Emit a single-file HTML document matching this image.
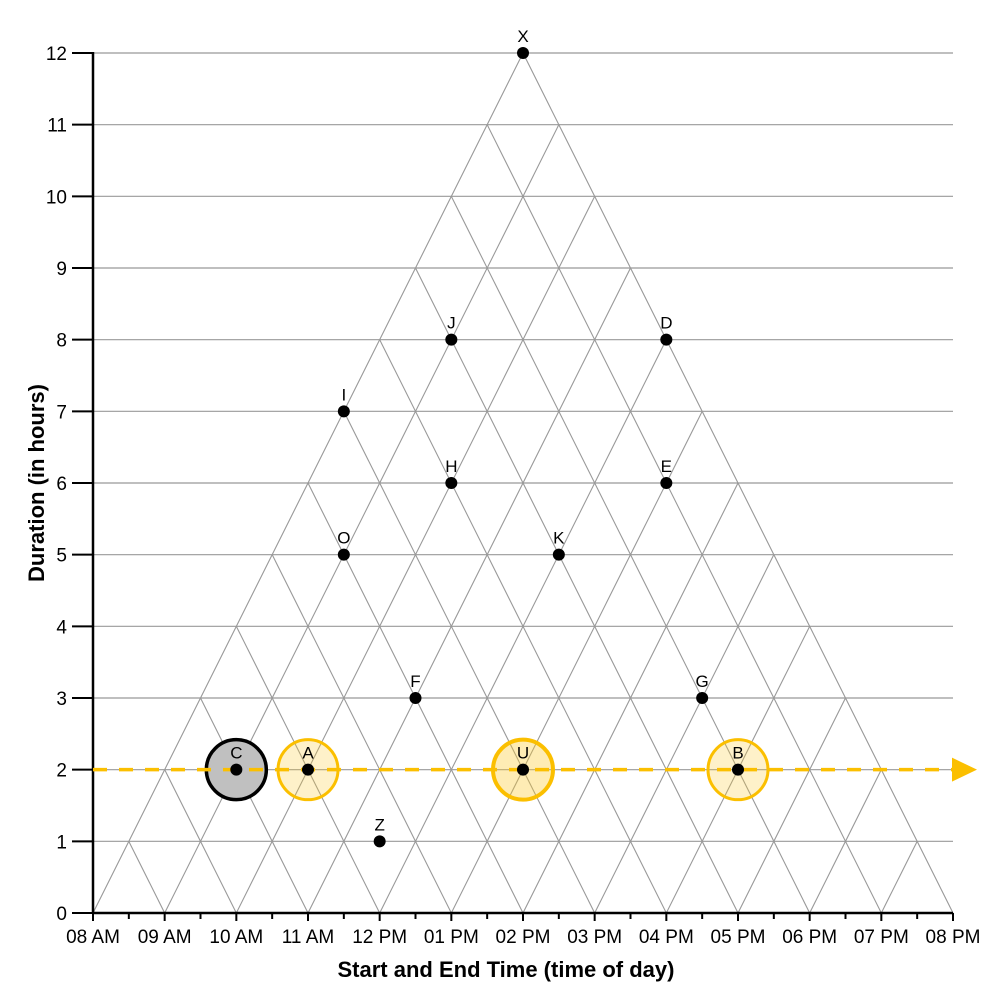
<!DOCTYPE html>
<html><head><meta charset="utf-8"><style>
body{margin:0;background:#fff}
svg{display:block;font-family:"Liberation Sans",Arial,sans-serif}
</style></head><body>
<svg id="chart" width="1000" height="1000">
<g id="grid"></g>
<g id="axes"></g>
<g id="hl"></g>
<g id="ref"></g>
<g id="pts"></g>
<text x="-483" y="44" transform="rotate(-90)" text-anchor="middle" font-size="22" font-weight="bold">Duration (in hours)</text>
<text x="506" y="977" text-anchor="middle" font-size="22" font-weight="bold">Start and End Time (time of day)</text>
</svg>
<script>
const pointNames=["X","J","D","I","H","E","O","K","F","G","C","A","U","B","Z"];
const pointTimes=[14,13,16,11.5,13,16,11.5,14.5,12.5,16.5,10,11,14,17,12];
const pointDurations=[12,8,8,7,6,6,5,5,3,3,2,2,2,2,1];
const xTickLabels=["08 AM","09 AM","10 AM","11 AM","12 PM","01 PM","02 PM","03 PM","04 PM","05 PM","06 PM","07 PM","08 PM"];
const yTickLabels=[0,1,2,3,4,5,6,7,8,9,10,11,12];
const highlightNames=["C","A","U","B"];
const highlightTypes=["gray","yellow","yellow-strong","yellow"];
const refDuration=2;
const T0=8,T1=20,D1=12;
const X=t=>93+(t-T0)/(T1-T0)*860;
const Y=d=>913-d/D1*860;
const NS="http://www.w3.org/2000/svg";
function mk(tag,attrs,parent){const e=document.createElementNS(NS,tag);for(const k in attrs)e.setAttribute(k,attrs[k]);parent.appendChild(e);return e;}
const grid=document.getElementById('grid'),axes=document.getElementById('axes'),hl=document.getElementById('hl'),ref=document.getElementById('ref'),pts=document.getElementById('pts');
yTickLabels.forEach(d=>{if(d===0)return;const l=mk('line',{x1:X(T0),x2:X(T1),y1:Y(d),y2:Y(d),stroke:'#999','stroke-width':1.2},grid);

});
for(let t=T0;t<=T1;t++){
  if(t<T1){const l=mk('line',{x1:X(t),y1:Y(0),x2:X((t+T1)/2),y2:Y(T1-t),stroke:'#999','stroke-width':1.1},grid);
  
  }
  if(t>T0){const l=mk('line',{x1:X(t),y1:Y(0),x2:X((t+T0)/2),y2:Y(t-T0),stroke:'#999','stroke-width':1.1},grid);
  
  }
}
let a=mk('line',{x1:93,x2:953,y1:913,y2:913,stroke:'#000','stroke-width':2.5},axes);


a=mk('line',{x1:93,x2:93,y1:52,y2:914,stroke:'#000','stroke-width':2.5},axes);


xTickLabels.forEach((s,i)=>{const x=X(T0+i);
  let t=mk('line',{x1:x,x2:x,y1:913,y2:921,stroke:'#000','stroke-width':2},axes);
  
  
  if(i<xTickLabels.length-1){t=mk('line',{x1:X(T0+i+0.5),x2:X(T0+i+0.5),y1:913,y2:919,stroke:'#000','stroke-width':2},axes);
  
  }
  const tx=mk('text',{x:x,y:943,'text-anchor':'middle','font-size':19},axes);tx.textContent=s;
  
  });
yTickLabels.forEach(d=>{const y=Y(d);
  const t=mk('line',{x1:72,x2:93,y1:y,y2:y,stroke:'#000','stroke-width':2},axes);
  
  
  const tx=mk('text',{x:67,y:y+7,'text-anchor':'end','font-size':19},axes);tx.textContent=d;
  
  });
highlightNames.forEach((n,i)=>{const k=pointNames.indexOf(n);const cx=X(pointTimes[k]),cy=Y(pointDurations[k]);
  const ty=highlightTypes[i];
  const st=ty==='gray'?{fill:'#c0c0c0',stroke:'#000','stroke-width':3.5}:ty==='yellow-strong'?{fill:'rgba(252,200,40,0.35)',stroke:'#fbbf00','stroke-width':4}:{fill:'rgba(252,200,40,0.25)',stroke:'#fbbf00','stroke-width':3};
  st.cx=cx;st.cy=cy;st.r=30;
  const c=mk('circle',st,hl);
  
  });
const yr=Y(refDuration);
let r=mk('line',{x1:X(T0),x2:958,y1:yr,y2:yr,stroke:'#fbbf00','stroke-width':3.5,'stroke-dasharray':'14,12'},ref);


r=mk('polygon',{points:`952,${yr-12} 977,${yr} 952,${yr+12}`,fill:'#fbbf00'},ref);


pointNames.forEach((n,i)=>{const cx=X(pointTimes[i]),cy=Y(pointDurations[i]);
  const c=mk('circle',{cx:cx,cy:cy,r:6,fill:'#000'},pts);
  
  
  const t=mk('text',{x:cx,y:cy-11,'text-anchor':'middle','font-size':17},pts);t.textContent=n;
  
  });
</script>
</body></html>
